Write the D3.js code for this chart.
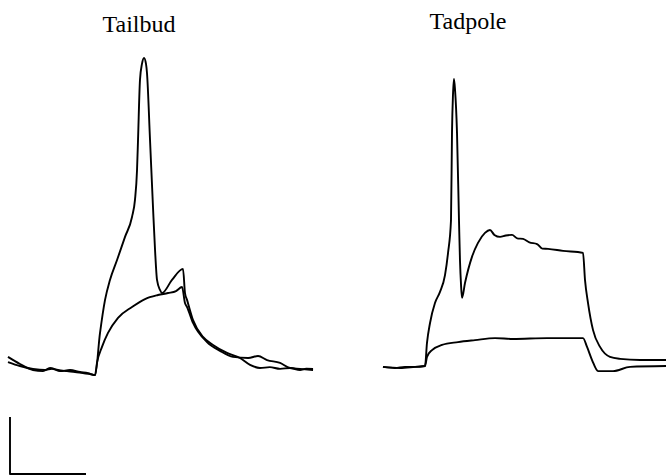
<!DOCTYPE html>
<html>
<head>
<meta charset="utf-8">
<script src="https://cdn.jsdelivr.net/npm/d3@7"></script>
<style>
    body { margin: 0; background: #fff; }
    .trace { fill: none; stroke: #000; stroke-width: 1.9; stroke-linejoin: round; }
    .title { font-family: "Liberation Serif", "DejaVu Serif", serif; font-size: 24px; }
</style>
</head>
<body>
<script>
// time in ms (0 = current onset), membrane potential in mV
var panelTitles = ["Tailbud", "Tadpole"];

// tailbud, trace that fires the spike
var tailbudSpike = [
    [-114.5,-65.4],[-98.7,-67.9],[-81.6,-70],[-68.4,-70.4],[-59.2,-69.3],[-48.7,-70],
    [-36.8,-70.4],[-26.3,-70.7],[-15.8,-71.1],[-6.6,-71.4],[0,-71.8],[6.6,-57.0],
    [13.2,-45.4],[19.7,-38.4],[29.0,-31.4],[39.5,-23.3],[48.7,-16.3],[52.6,-10.3],
    [55.3,0.2],[56.6,10.7],[59.2,31.8],[61.8,37.4],[64.5,39.5],[67.1,37.4],[68.4,34.2],
    [72.4,10.7],[76.3,-12.8],[79.0,-27.9],[81.6,-38.4],[85.5,-41.9],[88.2,-43.0],
    [101.3,-38.4],[115.8,-34.5],[118.4,-43.0],[121.1,-45.4],[129.0,-52.5],[142.1,-58.4],
    [155.3,-61.2],[173.7,-64.0],[190.8,-65.8],[204.0,-68.2],[217.1,-69.3],[230.0,-69.0],
    [243.5,-69.6],[256.6,-69.3],[269.8,-70],[278.0,-69.5],[286.9,-69.6]
];

// tailbud, subthreshold trace
var tailbudSlow = [
    [-114.5,-67.2],[-98.7,-68.6],[-81.6,-69.6],[-65.8,-70],[-56.6,-69.6],[-46.1,-70.4],
    [-32.9,-70],[-19.7,-70.7],[-9.2,-71.1],[0,-71.8],[2.6,-67.5],[9.2,-61.9],[17.1,-57.0],
    [30.3,-51.7],[48.7,-47.9],[65.8,-45.1],[82.9,-43.7],[96.1,-43.0],[106.6,-42.3],
    [114.5,-40.9],[118.4,-46.5],[121.1,-47.9],[129.0,-53.5],[147.4,-60.2],[164.5,-63.3],
    [181.6,-65.4],[201.6,-65.8],[214.5,-65.1],[226.4,-66.5],[243.5,-67.5],[256.6,-69.3],
    [269.8,-69.6],[286.9,-70]
];

// tadpole, trace that fires the spike
var tadpoleSpike = [
    [-56.6,-68.9],[-40.8,-69.3],[-27.6,-68.9],[-14.5,-68.9],[-1.3,-68.6],[1.3,-60.5],
    [5.3,-53.5],[11.8,-46.5],[18.4,-42.6],[25.0,-36.7],[29.0,-28.9],[32.9,-17.4],
    [34.2,13.2],[35.5,26.5],[36.8,32.1],[38.2,28.3],[40.8,13.2],[43.4,-17.4],[44.7,-31.4],
    [46.1,-40.2],[47.4,-44.7],[51.3,-39.5],[60.5,-30.3],[68.4,-25.4],[77.6,-21.9],
    [84.2,-20.9],[90.0,-22.6],[97.4,-23.3],[105.0,-22.8],[113.2,-22.6],[120.0,-23.8],
    [127.7,-24.0],[136.0,-25.2],[146.1,-25.8],[153.0,-27.4],[160.6,-27.5],[180.3,-28.2],
    [206.6,-28.9],[209.2,-38.4],[213.2,-46.5],[219.8,-56.0],[229.0,-61.9],[242.1,-65.4],
    [255.3,-66.1],[281.6,-66.5],[315.8,-66.5]
];

// tadpole, subthreshold trace
var tadpoleSlow = [
    [-56.6,-68.9],[-34.2,-69.3],[-14.5,-68.9],[-1.3,-68.6],[1.3,-65.4],[7.9,-63.0],
    [21.1,-61.2],[42.1,-60.2],[64.5,-59.5],[90.8,-58.8],[114.5,-59.1],[159.2,-58.8],
    [206.6,-58.8],[211.9,-61.9],[218.5,-66.5],[226.4,-70.4],[246.1,-70.4],[268.5,-68.9],
    [315.8,-68.6]
];

// scale bar: 100 ms, 20 mV
var barTime = 100, barVolt = 20;

var width = 666, height = 475;
var svg = d3.select("body").append("svg")
    .attr("width", width)
    .attr("height", height);

var y = d3.scaleLinear().domain([-70, -50]).range([370, 313]);

// each panel gets its own time axis, 100 ms = 76 px
var xLeft = d3.scaleLinear().domain([0, 100]).range([95, 171]);
var xRight = d3.scaleLinear().domain([0, 100]).range([426, 502]);

function lineFor(x) {
    return d3.line()
        .x(function (d) { return x(d[0]); })
        .y(function (d) { return y(d[1]); })
        .curve(d3.curveMonotoneX);
}

var panels = [
    { title: panelTitles[0], x: xLeft, traces: [tailbudSpike, tailbudSlow], tx: 139, ty: 32 },
    { title: panelTitles[1], x: xRight, traces: [tadpoleSpike, tadpoleSlow], tx: 468, ty: 29 }
];

panels.forEach(function (p) {
    var g = svg.append("g");
    g.selectAll("path")
        .data(p.traces)
        .enter()
        .append("path")
        .attr("class", "trace")
        .attr("d", lineFor(p.x));

    g.append("text")
        .attr("class", "title")
        .attr("x", p.tx)
        .attr("y", p.ty)
        .attr("text-anchor", "middle")
        .text(p.title);
});

// calibration bar, bottom left
var barLen = xLeft(barTime) - xLeft(0);
var barH = y(-70) - y(-70 + barVolt);
var bx = 10, by = 474;
svg.append("path")
    .attr("class", "trace")
    .attr("d", d3.line()([[bx, by - barH], [bx, by], [bx + barLen, by]]));
</script>
</body>
</html>
